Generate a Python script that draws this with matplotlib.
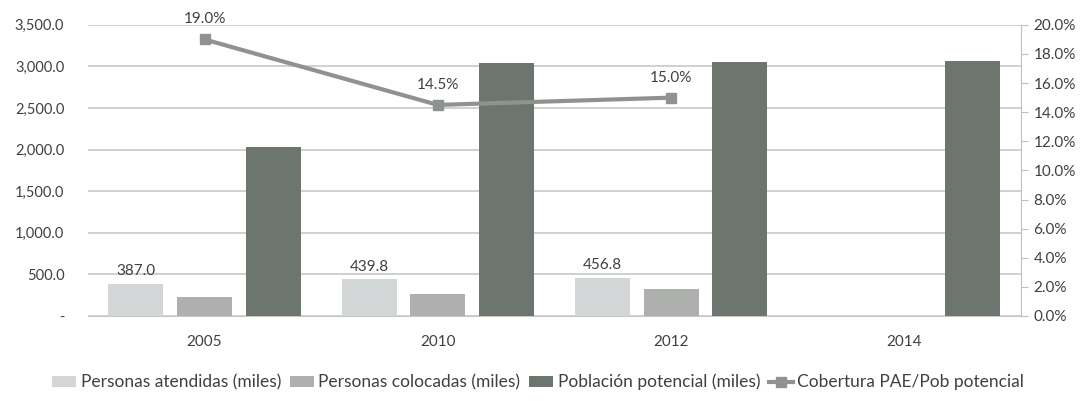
import numpy as np
import matplotlib.pyplot as plt
from matplotlib.ticker import FuncFormatter

plt.rcParams['font.family'] = ['Lato', 'DejaVu Sans']

# data
years = ['2005', '2010', '2012', '2014']
atendidas = [387.0, 439.8, 456.8, np.nan]
colocadas = [225.0, 261.0, 321.0, np.nan]
poblacion = [2030.0, 3041.0, 3048.0, 3060.0]
cobertura = [0.190, 0.145, 0.150]

labels = ['Personas atendidas (miles)', 'Personas colocadas (miles)',
          'Población potencial (miles)', 'Cobertura PAE/Pob potencial']
colors = ['#d3d6d6', '#aeb0ae', '#6d756f']
line_color = '#8f938f'

fig = plt.figure(figsize=(10.85, 4.01), dpi=100)
ax = fig.add_axes([0.081, 0.212, 0.86, 0.726])
ax2 = ax.twinx()

x = np.arange(len(years))
w = 0.236
step = 0.294
bars = []
for i, (vals, c) in enumerate(zip([atendidas, colocadas, poblacion], colors)):
    b = ax.bar(x + (i - 1) * step, vals, width=w, color=c, label=labels[i], zorder=3)
    bars.append(b)

# labels on the first series
for xi, v in zip(x, atendidas):
    if not np.isnan(v):
        ax.text(xi - step, v + 70, f'{v:.1f}', ha='center', va='bottom', fontsize=11, color='#404040')

ln, = ax2.plot(x[:len(cobertura)], cobertura, color=line_color, lw=3, marker='s',
               markersize=7, label=labels[3], zorder=4)
for xi, v in zip(x, cobertura):
    ax2.text(xi, v + 0.009, f'{v*100:.1f}%', ha='center', va='bottom', fontsize=11, color='#404040')

ax.set_xlim(-0.5, 3.5)
ax.set_ylim(0, 3500)
ax.set_yticks(np.arange(0, 3501, 500))
ax.yaxis.set_major_formatter(FuncFormatter(lambda v, p: '-' if v == 0 else f'{v:,.1f}'))
ax2.set_ylim(0, 0.20)
ax2.set_yticks(np.arange(0, 0.2001, 0.02))
ax2.yaxis.set_major_formatter(FuncFormatter(lambda v, p: f'{v*100:.1f}%'))

ax.set_xticks(x)
ax.set_xticklabels(years)
ax.grid(axis='y', color='#c8c8c8', lw=1.2, zorder=0)
ax.set_axisbelow(True)

for a in (ax, ax2):
    for s in ('top', 'left', 'right'):
        a.spines[s].set_visible(False)
    a.spines['bottom'].set_color('#c8c8c8')
ax2.spines['right'].set_visible(True)
ax2.spines['right'].set_color('#c0c0c0')
ax2.spines['bottom'].set_visible(False)

ax.tick_params(axis='x', length=0, labelsize=11, colors='#404040', pad=14)
ax.tick_params(axis='y', length=0, labelsize=10.5, colors='#404040', pad=17)
ax2.tick_params(axis='y', length=5, color='#c0c0c0', labelsize=11, labelcolor='#404040', pad=4)

handles = bars + [ln]
fig.legend(handles, labels, loc='center', bbox_to_anchor=(0.496, 0.047), ncol=4,
           frameon=False, fontsize=12.5, handlelength=1.4, handleheight=0.6,
           handletextpad=0.25, columnspacing=0.5, labelcolor='#404040')

fig.savefig('out.png', dpi=100)
